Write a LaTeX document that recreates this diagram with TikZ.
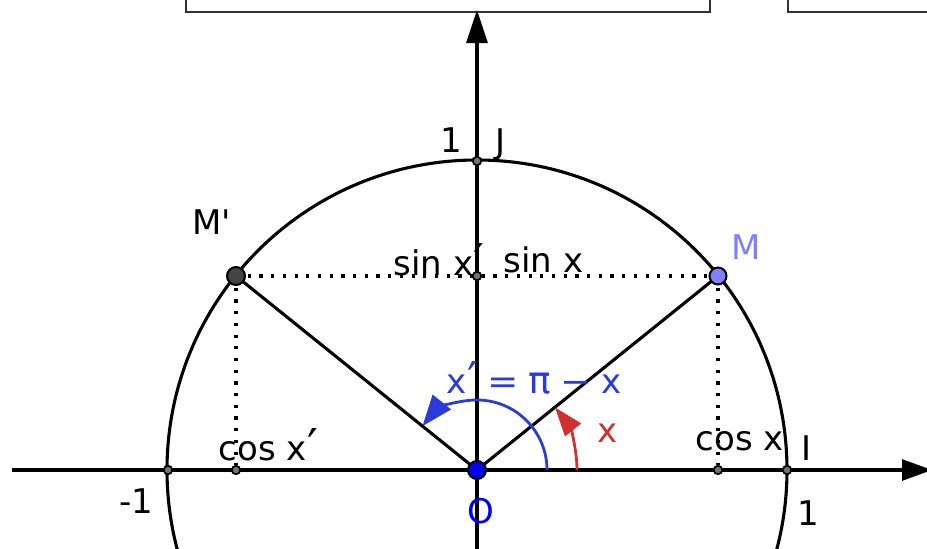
\documentclass[tikz,border=0pt]{standalone}
\usepackage{fontspec}
\setmainfont{DejaVu Sans}
\usetikzlibrary{arrows.meta}
\definecolor{mblue}{HTML}{7F7FFF}
\definecolor{arcblue}{HTML}{2A3ADB}
\definecolor{arcred}{HTML}{D03030}
\definecolor{mpgray}{HTML}{444444}
\newcommand{\prm}{\kern0.5pt\raisebox{-3pt}{\fontsize{48}{48}\selectfont ′}}
\begin{document}
\begin{tikzpicture}[x=1pt,y=-1pt,line width=3.1pt,font=\fontsize{34}{38}\selectfont,
  tick/.style={circle,draw=black,fill=black!55,inner sep=0pt,minimum size=8.5pt,line width=1.7pt},
  bigpt/.style={circle,draw=black,inner sep=0pt,minimum size=18pt,line width=2pt},
  lbl/.style={inner sep=0pt,anchor=base west},
  dots/.style={line width=3.2pt,dash pattern=on 3.2pt off 8.5pt},
  box/.style={draw=black!80,line width=2.4pt}]
\useasboundingbox (0,0) rectangle (927,549);
\clip (0,0) rectangle (927,549);
% top boxes
\node[box,minimum width=524pt,minimum height=40pt,anchor=south west,inner sep=0pt] (box1) at (185,13) {};
\node[box,minimum width=180pt,minimum height=40pt,anchor=south west,inner sep=0pt] (box2) at (787,13) {};
% points
\coordinate (O0) at (477,470);
\coordinate (M0) at (718,276);
\coordinate (Mp0) at (236,276);
\coordinate (xl) at (12,470);
\coordinate (xr) at (932,470);
\coordinate (yb) at (477,560);
\coordinate (yt) at (477,10);
% circle
\draw (O0) circle[radius=310pt];
% axes
\draw[-{Triangle[length=30pt,width=21pt]}] (xl) -- (xr);
\draw[-{Triangle[length=33pt,width=21pt]}] (yb) -- (yt);
% tick points
\node[tick] (I) at (787,470) {};
\node[tick] (Im) at (168,470) {};
\node[tick] (J) at (477,161) {};
\node[tick] (C) at (718,470) {};
\node[tick] (Cp) at (236,470) {};
\node[tick] (S) at (477,276) {};
% dotted lines
\draw[dots] (Mp0) -- (M0);
\draw[dots] (M0) -- (C);
\draw[dots] (Mp0) -- (Cp);
% radii
\draw (O0) -- (M0);
\draw (O0) -- (Mp0);
% arcs
\draw[arcblue,line width=2.8pt,-{Triangle[length=31pt,width=23pt]}] ([shift={(0:70pt)}]O0) arc[start angle=0,end angle=141.2,radius=70pt];
\draw[arcred,line width=2.8pt,-{Triangle[length=29pt,width=20pt]}] ([shift={(0:100pt)}]O0) arc[start angle=0,end angle=38.8,radius=100pt];
% big points
\node[bigpt,fill=mblue,minimum size=17pt] (M) at (M0) {};
\node[bigpt,fill=mpgray] (Mp) at (Mp0) {};
\node[bigpt,fill=blue] (O) at (O0) {};
% labels
\node[lbl,anchor=base] (l1J) at (451,152) {1};
\node[lbl] (lJ) at (494,153) {J};
\node[lbl] (lMp) at (191,234) {M\textquotesingle};
\node[lbl,text=mblue] (lM) at (730,259) {M};
\node[lbl] (lsinp) at (392,275) {sin x\prm};
\node[lbl] (lsin) at (502,272) {sin x};
\node[lbl,text=arcblue] (leq) at (445,393) {x\prm\hspace{9pt}\scalebox{1.1}[1]{=}\hspace{10pt}\scalebox{1.1}{π}\hspace{10pt}\scalebox{1.1}[1]{−}\hspace{9pt}x};
\node[lbl,anchor=base,text=arcred] (lx) at (608,442) {x};
\node[lbl,anchor=base,text=blue] (lO) at (481,523) {O};
\node[lbl] (lcosp) at (217,460) {cos x\prm};
\node[lbl] (lcos) at (694,450) {cos x};
\node[lbl] (lI) at (800,460) {I};
\node[lbl] (lm1) at (118,513) {-1};
\node[lbl] (l1) at (796,525) {1};
\end{tikzpicture}
\end{document}
